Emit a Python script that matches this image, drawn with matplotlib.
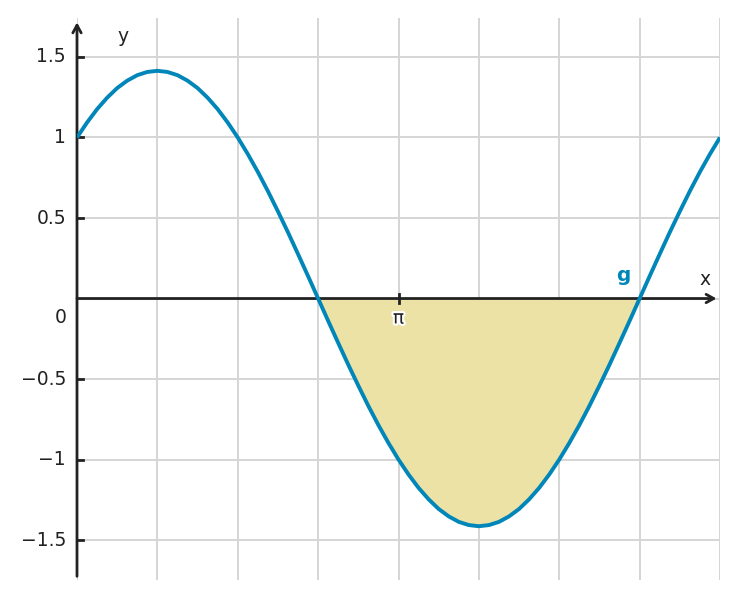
import numpy as np
import matplotlib.pyplot as plt
import matplotlib.patheffects as pe

# sample points of g, read every pi/32 from 0 to 2*pi
x_steps = np.arange(65)
g_vals = [1.000, 1.093, 1.176, 1.247, 1.307, 1.353, 1.387, 1.407, 1.414,
          1.407, 1.387, 1.353, 1.307, 1.247, 1.176, 1.093, 1.000,
          0.897, 0.786, 0.667, 0.541, 0.411, 0.276, 0.139, 0.000,
          -0.139, -0.276, -0.411, -0.541, -0.667, -0.786, -0.897, -1.000,
          -1.093, -1.176, -1.247, -1.307, -1.353, -1.387, -1.407, -1.414,
          -1.407, -1.387, -1.353, -1.307, -1.247, -1.176, -1.093, -1.000,
          -0.897, -0.786, -0.667, -0.541, -0.411, -0.276, -0.139, 0.000,
          0.139, 0.276, 0.411, 0.541, 0.667, 0.786, 0.897, 1.000]
y_ticks = [1.5, 1, 0.5, -0.5, -1, -1.5]
y_tick_labels = ['1.5', '1', '0.5', '\u22120.5', '\u22121', '\u22121.5']
grid_x = np.arange(0, 9) * np.pi / 4

x = x_steps * np.pi / 32
g = np.array(g_vals)

W, H = 738, 599
fig = plt.figure(figsize=(W / 100, H / 100), dpi=100)
ax = fig.add_axes([77 / W, (H - 580) / H, (720 - 77) / W, (580 - 18) / H])
ax.set_xlim(0, 2 * np.pi)
ax.set_ylim(-1.748, 1.742)
ax.axis('off')

axis_col = '#222222'
grid_col = '#d5d5d5'
curve_col = '#0086b8'
fill_col = '#ede2a6'
fs = 13.5

# grid
for gx in grid_x:
    ax.axvline(gx, color=grid_col, lw=1.4, zorder=0)
for gy in y_ticks + [0]:
    ax.axhline(gy, color=grid_col, lw=1.4, zorder=0)

# shaded area below the x-axis
ax.fill_between(x, g, 0, where=g <= 0, interpolate=True, color=fill_col, lw=0, zorder=1)

# axes with arrows
ax.annotate('', xy=(6.25, 0), xytext=(0, 0), annotation_clip=False,
            arrowprops=dict(arrowstyle='->,head_length=0.55,head_width=0.3', lw=2,
                            color=axis_col, shrinkA=0, shrinkB=0), zorder=3)
ax.annotate('', xy=(0, 1.715), xytext=(0, -1.725), annotation_clip=False,
            arrowprops=dict(arrowstyle='->,head_length=0.55,head_width=0.3', lw=2,
                            color=axis_col, shrinkA=0, shrinkB=0), zorder=3)

# curve
ax.plot(x, g, color=curve_col, lw=2.8, zorder=4, solid_joinstyle='round',
        solid_capstyle='butt')

# y ticks and labels
for v, lab in zip(y_ticks, y_tick_labels):
    ax.plot([0, 0.055], [v, v], color=axis_col, lw=2, zorder=3, clip_on=False)
    ax.annotate(lab, xy=(0, v), xytext=(-8, 0), textcoords='offset points',
                ha='right', va='center', fontsize=fs, color=axis_col)

# pi tick
ax.plot([np.pi, np.pi], [-0.03, 0.03], color=axis_col, lw=2, zorder=3)
ax.annotate('\u03c0', xy=(np.pi, 0), xytext=(0, -14), textcoords='offset points',
            ha='center', va='center', fontsize=fs, color=axis_col, zorder=5,
            path_effects=[pe.withStroke(linewidth=3, foreground='white')])

ax.annotate('0', xy=(0, 0), xytext=(-12, -14), textcoords='offset points',
            ha='center', va='center', fontsize=fs, color=axis_col)
ax.text(0.449, 1.63, 'y', ha='center', va='center', fontsize=fs, color=axis_col)
ax.text(6.136, 0.121, 'x', ha='center', va='center', fontsize=fs, color=axis_col)
ax.text(5.335, 0.146, 'g', ha='center', va='center', fontsize=fs + 1,
        fontweight='bold', color=curve_col)

fig.savefig('out.png', dpi=100)
